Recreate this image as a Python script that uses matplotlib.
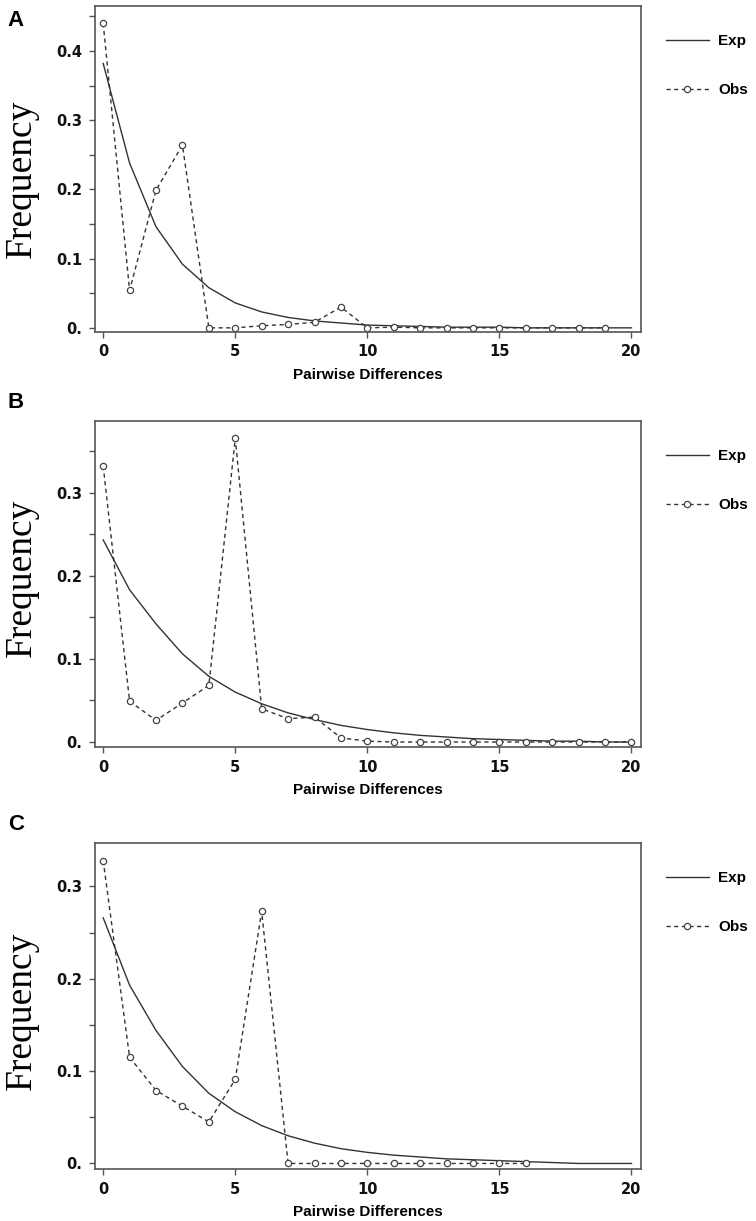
import numpy as np
import matplotlib
matplotlib.use("Agg")
import matplotlib.pyplot as plt
from matplotlib.ticker import FixedLocator

# Data (mismatch distributions)
diffs = np.arange(21)

exp_a = [0.382, 0.238, 0.146, 0.092, 0.058, 0.036, 0.023, 0.015, 0.010, 0.007, 0.004,
         0.003, 0.002, 0.001, 0.001, 0.001, 0.000, 0.000, 0.000, 0.000, 0.000]
obs_a = [0.440, 0.054, 0.199, 0.264, 0.000, 0.000, 0.003, 0.005, 0.008, 0.030,
         0.000, 0.001, 0.000, 0.000, 0.000, 0.000, 0.000, 0.000, 0.000, 0.000]

exp_b = [0.243, 0.183, 0.142, 0.106, 0.079, 0.060, 0.046, 0.035, 0.027, 0.020, 0.015,
         0.011, 0.008, 0.006, 0.004, 0.003, 0.002, 0.001, 0.001, 0.000, 0.000]
obs_b = [0.332, 0.049, 0.026, 0.047, 0.068, 0.365, 0.040, 0.028, 0.030, 0.005, 0.001,
         0.000, 0.000, 0.000, 0.000, 0.000, 0.000, 0.000, 0.000, 0.000, 0.000]

exp_c = [0.266, 0.193, 0.144, 0.105, 0.076, 0.056, 0.041, 0.030, 0.022, 0.016, 0.012,
         0.009, 0.007, 0.005, 0.004, 0.003, 0.002, 0.001, 0.000, 0.000, 0.000]
obs_c = [0.328, 0.115, 0.079, 0.062, 0.045, 0.091, 0.273, 0.000, 0.000, 0.000,
         0.000, 0.000, 0.000, 0.000, 0.000, 0.000, 0.000]

panels = ["A", "B", "C"]
y_tops = [0.465, 0.386, 0.347]
y_major = [[0.0, 0.1, 0.2, 0.3, 0.4], [0.0, 0.1, 0.2, 0.3], [0.0, 0.1, 0.2, 0.3]]
y_major_labels = [["0.", "0.1", "0.2", "0.3", "0.4"], ["0.", "0.1", "0.2", "0.3"], ["0.", "0.1", "0.2", "0.3"]]
y_minor = [[0.05, 0.15, 0.25, 0.35, 0.45], [0.05, 0.15, 0.25, 0.35], [0.05, 0.15, 0.25]]
x_ticks = [0, 5, 10, 15, 20]

# Layout (pixels of a 756x1221 figure)
W, H = 756, 1221
ax_left, ax_width, ax_height = 95, 546, 326
ax_tops = [6, 421, 843]
letter_y = [20, 403, 825]
freq_center = [179, 578, 1011]

LINE_COL = "#333333"
BOX_COL = "#555555"

fig = plt.figure(figsize=(W / 100, H / 100), dpi=100)

for i in range(3):
    top = ax_tops[i]
    ax = fig.add_axes([ax_left / W, 1 - (top + ax_height) / H, ax_width / W, ax_height / H])
    exp_y = [exp_a, exp_b, exp_c][i]
    obs_y = [obs_a, obs_b, obs_c][i]

    ax.plot(diffs[:len(exp_y)], exp_y, color=LINE_COL, lw=1.0, label="Exp")
    ax.plot(diffs[:len(obs_y)], obs_y, color=LINE_COL, lw=1.0, ls=(0, (3, 2.5)),
            marker="o", ms=4.5, mfc="white", mec="#444444", mew=0.9, label="Obs")

    ax.set_xlim(-0.31, 20.36)
    ax.set_ylim(-0.006, y_tops[i])

    ax.xaxis.set_major_locator(FixedLocator(x_ticks))
    ax.set_xticklabels([str(t) for t in x_ticks])
    ax.yaxis.set_major_locator(FixedLocator(y_major[i]))
    ax.yaxis.set_minor_locator(FixedLocator(y_minor[i]))
    ax.set_yticklabels(y_major_labels[i])

    ax.tick_params(axis="both", which="both", direction="out", length=4, width=1,
                   color=BOX_COL, labelsize=10.5, pad=5)
    for lab in ax.get_xticklabels() + ax.get_yticklabels():
        lab.set_fontweight("bold")
        lab.set_family("DejaVu Sans")
        lab.set_color("#111111")

    for sp in ax.spines.values():
        sp.set_color(BOX_COL)
        sp.set_linewidth(1.2)

    ax.set_xlabel("Pairwise Differences", fontsize=11, fontweight="bold",
                  family="Liberation Sans", labelpad=6)

    # y label in serif, placed by figure pixel coordinates
    fig.text(22 / W, 1 - freq_center[i] / H, "Frequency", rotation=90,
             ha="center", va="center", fontsize=27, family="Liberation Serif")

    fig.text(16 / W, 1 - letter_y[i] / H, panels[i], ha="center", va="center",
             fontsize=16, fontweight="bold", family="Liberation Sans")

    ax.legend(loc="upper left", bbox_to_anchor=((666 - ax_left) / ax_width, 1 - 28 / ax_height),
              frameon=False, borderpad=0, borderaxespad=0, handlelength=2.8,
              handletextpad=0.6, labelspacing=2.3,
              prop={"family": "Liberation Sans", "weight": "bold", "size": 11})

fig.savefig("out.png", dpi=100)
